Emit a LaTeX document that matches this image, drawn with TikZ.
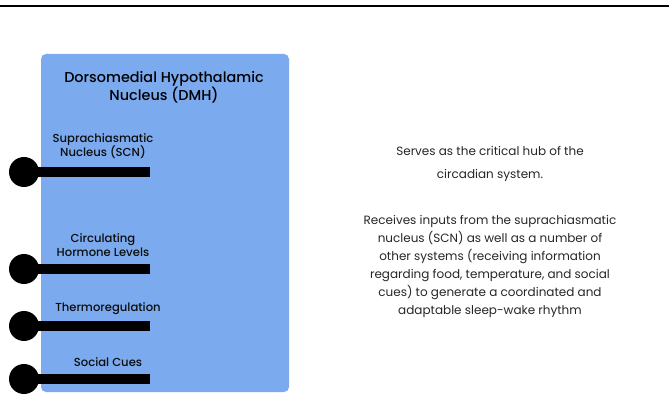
\documentclass[tikz,border=0pt]{standalone}
\usepackage{fontspec}
\setmainfont{Poppins}[BoldFont={Poppins Medium}]
\begin{document}
\begin{tikzpicture}[x=1pt,y=-1pt,
  knob/.style={circle,fill=black,inner sep=0pt,minimum size=30pt},
  bar/.style={line width=10pt,black},
  lbl/.style={align=center,font=\fontsize{11.6}{14}\selectfont\bfseries,text=black!95},
  desc/.style={align=center,font=\fontsize{12}{18}\selectfont,text=black!85}]
\definecolor{panelblue}{HTML}{7BAAEE}
\useasboundingbox (0,0) rectangle (669,411);
\draw[line width=2pt] (0,6) -- (669,6);
\fill[panelblue,rounded corners=5pt] (41,54) rectangle (289,392);
\node[font=\fontsize{14.4}{15.5}\selectfont\bfseries,align=center] (title) at (164,87.5)
  {Dorsomedial Hypothalamic\\Nucleus (DMH)};
% inputs: knob, bar and label
\foreach \n/\y/\lx/\ly/\t in {scn/172/103/146/{Suprachiasmatic\\Nucleus (SCN)},
  horm/269/103/245/{Circulating\\Hormone Levels},
  therm/326/108/309/{Thermoregulation},
  soc/379/108/362/{Social Cues}}{
  \node[knob] (k\n) at (24,\y) {};
  \coordinate (e\n) at (150,\y);
  \draw[bar] (k\n.center) -- (e\n);
  \node[lbl] (l\n) at (\lx,\ly) {\t};
}
\node[desc] (hub) at (490,164) {Serves as the critical hub of the\\[5pt]circadian system.};
\node[desc] (inputs) at (490,266) {Receives inputs from the suprachiasmatic\\nucleus (SCN) as well as a number of\\other systems (receiving information\\regarding food, temperature, and social\\cues) to generate a coordinated and\\adaptable sleep-wake rhythm};
\end{tikzpicture}
\end{document}
